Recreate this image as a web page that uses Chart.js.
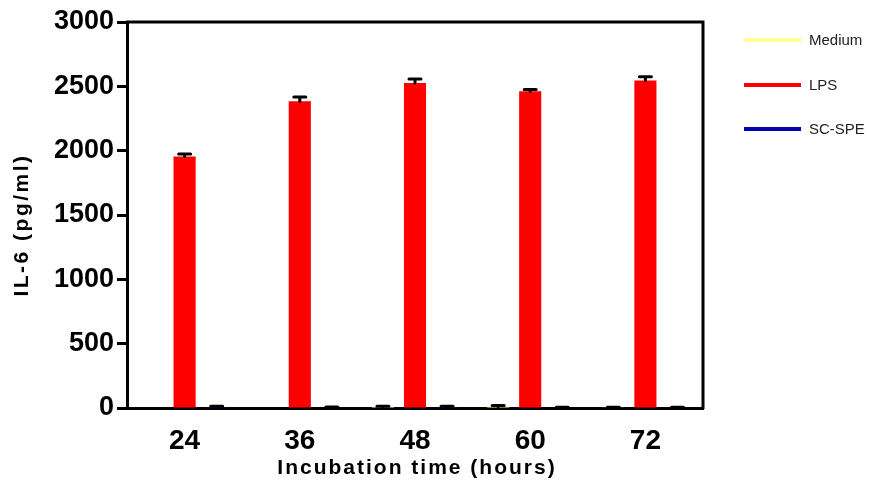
<!DOCTYPE html>
<html>
<head>
<meta charset="utf-8">
<script src="https://cdn.jsdelivr.net/npm/chart.js@4/dist/chart.umd.min.js"></script>
<style>
  html, body { margin: 0; padding: 0; background: #fff; }
</style>
</head>
<body>
<canvas id="myChart" width="869" height="485"></canvas>
<script>
const hours = ['24', '36', '48', '60', '72'];
const seriesNames = ['Medium', 'LPS', 'SC-SPE'];
const mediumVals = [0, 0, 8, 12, 3];
const lpsVals = [1955, 2385, 2525, 2462, 2545];
const scspeVals = [8, 4, 8, 3, 3];
const mediumErr = [0, 0, 6, 8, 2];
const lpsErr = [20, 32, 32, 14, 30];
const scspeErr = [5, 3, 6, 2, 2];
const yTicks = [0, 500, 1000, 1500, 2000, 2500, 3000];
const xTitle = 'Incubation time (hours)';
const yTitle = 'IL-6 (pg/ml)';

const colors = ['#ffff99', '#ff0000', '#0000b0'];
const FONT = "'Liberation Sans', Arial, sans-serif";

// error bars + frame + legend + spaced axis titles
const extras = {
  id: 'extras',
  afterDatasetsDraw(chart) {
    const ctx = chart.ctx;
    const y = chart.scales.y;
    const a = chart.chartArea;
    ctx.save();
    ctx.strokeStyle = '#000';
    ctx.lineWidth = 3;
    ctx.lineCap = 'round';
    chart.data.datasets.forEach((ds, i) => {
      const meta = chart.getDatasetMeta(i);
      meta.data.forEach((bar, j) => {
        const v = ds.data[j];
        const e = ds.err[j];
        if (!e) return;
        const top = y.getPixelForValue(v + e);
        ctx.beginPath();
        ctx.moveTo(bar.x, y.getPixelForValue(v));
        ctx.lineTo(bar.x, top);
        ctx.moveTo(bar.x - 6, top);
        ctx.lineTo(bar.x + 6, top);
        ctx.stroke();
      });
    });
    // top and right frame
    ctx.lineCap = 'butt';
    ctx.beginPath();
    ctx.moveTo(a.left - 1, a.top);
    ctx.lineTo(a.right, a.top);
    ctx.lineTo(a.right, a.bottom + 1);
    ctx.stroke();

    // legend with line samples
    ctx.font = '15px ' + FONT;
    ctx.textBaseline = 'middle';
    ctx.lineWidth = 4;
    const ly = [40, 85, 129];
    chart.data.datasets.forEach((ds, i) => {
      ctx.strokeStyle = ds.backgroundColor;
      ctx.beginPath();
      ctx.moveTo(744, ly[i]);
      ctx.lineTo(801, ly[i]);
      ctx.stroke();
      ctx.fillStyle = '#222';
      ctx.fillText(ds.label, 809, ly[i] + 1);
    });

    // axis titles
    ctx.fillStyle = '#000';
    ctx.textAlign = 'center';
    ctx.font = 'bold 21px ' + FONT;
    ctx.letterSpacing = '2px';
    ctx.fillText(xTitle, (a.left + a.right) / 2 + 2, 468);
    ctx.font = 'bold 21px ' + FONT;
    ctx.letterSpacing = '2.5px';
    ctx.translate(22, 226);
    ctx.rotate(-Math.PI / 2);
    ctx.fillText(yTitle, 1, 0);
    ctx.restore();
  }
};

const ctx = document.getElementById('myChart').getContext('2d');
const chart = new Chart(ctx, {
  type: 'bar',
  data: {
    labels: hours,
    datasets: [
      { label: seriesNames[0], data: mediumVals, err: mediumErr, backgroundColor: colors[0] },
      { label: seriesNames[1], data: lpsVals, err: lpsErr, backgroundColor: colors[1] },
      { label: seriesNames[2], data: scspeVals, err: scspeErr, backgroundColor: colors[2] }
    ]
  },
  options: {
    responsive: false,
    animation: false,
    devicePixelRatio: 1,
    categoryPercentage: 0.835,
    barPercentage: 0.69,
    layout: { padding: { top: 22, right: 166, left: 0, bottom: 0 } },
    plugins: { legend: { display: false }, tooltip: { enabled: false } },
    scales: {
      x: {
        grid: { display: false },
        border: { display: true, color: '#000', width: 3 },
        ticks: { color: '#000', padding: 8, font: { family: FONT, size: 28, weight: 'bold' } },
        afterFit(s) { s.height = 485 - 408; }
      },
      y: {
        min: 0,
        max: 3000,
        afterBuildTicks(s) { s.ticks = yTicks.map(v => ({ value: v })); },
        grid: { drawOnChartArea: false, drawTicks: true, tickLength: 10, tickWidth: 3, tickColor: '#000' },
        border: { display: true, color: '#000', width: 3 },
        ticks: {
          color: '#000', padding: 3,
          font: { family: FONT, size: 27, weight: 'bold' },
          callback: v => String(v)
        },
        afterFit(s) { s.width = 127; }
      }
    }
  },
  plugins: [extras]
});
</script>
</body>
</html>
